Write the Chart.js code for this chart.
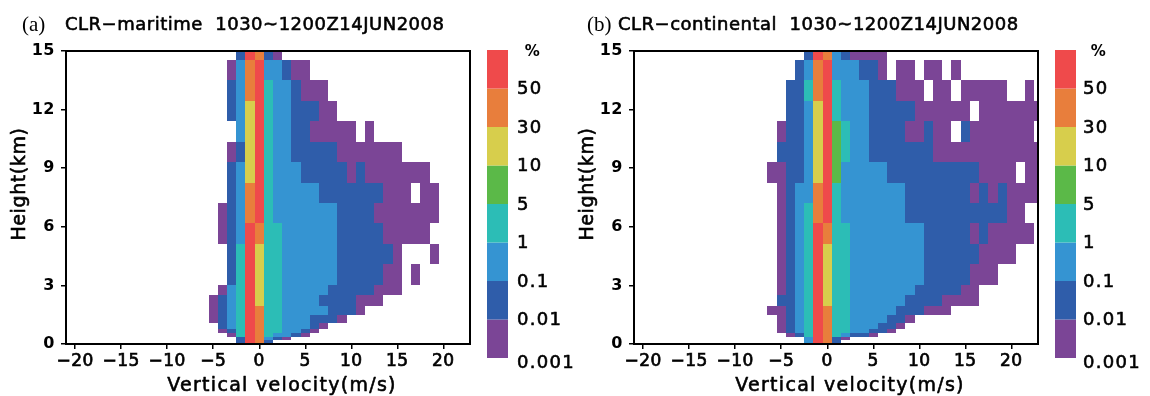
<!DOCTYPE html>
<html>
<head>
<meta charset="utf-8">
<script src="https://cdn.jsdelivr.net/npm/chart.js@4.4.0/dist/chart.umd.min.js"></script>
<style>
  html, body { margin: 0; padding: 0; background: #fff; }
  #wrap { position: relative; width: 1150px; height: 396px; overflow: hidden; }
  canvas { position: absolute; top: 0; }
</style>
</head>
<body>
<div id="wrap">
  <canvas id="chartA" width="582" height="396" style="left:0"></canvas>
  <canvas id="chartB" width="582" height="396" style="left:568px"></canvas>
</div>
<script>
// height bin edges (km), bottom to top
const heightEdges = [0, 0.2, 0.37, 0.55, 0.77, 1.06, 1.48, 1.96, 2.51, 3.02, 4.08, 5.12, 6.18,
  7.2, 8.26, 9.3, 10.36, 11.42, 12.44, 13.52, 14.54, 15.5];
// first character of each row string is the 1 m/s bin centred on this velocity
const velocityStart = -6;
const velocityTicks = [-20, -15, -10, -5, 0, 5, 10, 15, 20];
const heightTicks = [0, 3, 6, 9, 12, 15];

// shading classes, lowest first
const shadeColors = ['#7b4596', '#2f5daa', '#3594d2', '#2cbdb6', '#5bb948', '#d7ce4c', '#e87e3c', '#ef4a4b'];
const shadeLabels = ['0.001', '0.01', '0.1', '1', '5', '10', '30', '50'];

// rows from top (15 km) to the ground; digit = shading class, '.' = no data
const maritimeRows = [
  '....17610',
  '...026722100',
  '...12673221000',
  '...125732211100',
  '....2573221100000.0',
  '...0157322111110000000',
  '...1257322211111010000000',
  '...12673222221111111000.00',
  '..012673222222211110000000',
  '..01276332222221111100000',
  '...1375332222221111110...0',
  '...1375332222221111100.0',
  '..02375332222211111000',
  '.0123753322221111000',
  '.01237633222221110',
  '.012376332221110',
  '..123763322210',
  '..01376332210',
  '...037632210',
  '....176210',
  '....1761'
];
const continentalRows = [
  '....176210000',
  '...1267222110.00.00.0',
  '..113673222111000.00.00000..0',
  '..11257322211111000000.0000000',
  '.0112574322111100100.10000000',
  '.11125743221111111000000000000',
  '001125742222211111111110000.00',
  '.01226732222222111111101010000',
  '.012367322222221111111111100',
  '.0123763322222222111110100000',
  '.01237533222222221111110000',
  '.012375332222222211111000',
  '.0123753322222221111100',
  '.1123753322222211110000',
  '00123763322222111000',
  '.012376332222110',
  '.01237633222110',
  '.0123763322110',
  '..0137632110',
  '....27610',
  '....2761'
];

const FONT = 'DejaVu Sans';

// fill text and thicken it a little, the original lettering is heavier than DejaVu regular
function heavyText(ctx, t, x, y, w) {
  ctx.fillText(t, x, y);
  ctx.lineWidth = w;
  ctx.strokeText(t, x, y);
}

const cfadPlugin = {
  id: 'cfad',
  beforeDraw(chart) {
    chart.ctx.letterSpacing = '0.5px';
  },
  beforeDatasetsDraw(chart, args, opts) {
    const { ctx, chartArea: a, scales: { x, y } } = chart;
    const n = opts.rows.length;
    ctx.save();
    ctx.beginPath();
    ctx.rect(a.left, a.top, a.width, a.height);
    ctx.clip();
    opts.rows.forEach((row, i) => {
      const lo = heightEdges[n - 1 - i], hi = heightEdges[n - i];
      const y0 = Math.round(y.getPixelForValue(hi));
      const y1 = Math.round(y.getPixelForValue(lo));
      [...row].forEach((c, j) => {
        if (c === '.') return;
        const v = velocityStart + j;
        const x0 = Math.round(x.getPixelForValue(v - 0.5));
        const x1 = Math.round(x.getPixelForValue(v + 0.5));
        ctx.fillStyle = shadeColors[+c];
        ctx.fillRect(x0, y0, x1 - x0, y1 - y0);
      });
    });
    ctx.restore();
  },
  afterDraw(chart, args, opts) {
    const { ctx, chartArea: a } = chart;
    ctx.save();
    // frame
    ctx.strokeStyle = '#000';
    ctx.lineWidth = 2;
    ctx.strokeRect(a.left, a.top, a.width, a.height);

    // colour bar
    const cbL = 487, cbW = 21, cbTop = 50, cbBot = 358;
    const h = (cbBot - cbTop) / shadeColors.length;
    shadeColors.forEach((c, i) => {
      ctx.fillStyle = c;
      ctx.fillRect(cbL, cbBot - (i + 1) * h, cbW, h);
    });
    ctx.fillStyle = '#000';
    ctx.strokeStyle = '#000';
    ctx.lineJoin = 'round';
    ctx.textBaseline = 'middle';
    ctx.textAlign = 'left';
    ctx.letterSpacing = '1.3px';
    ctx.font = `18px "${FONT}"`;
    shadeLabels.forEach((t, i) => {
      const yy = cbBot - i * h + (i === 0 ? 5 : 1);
      heavyText(ctx, t, opts.cbText, yy, 0.6);
    });
    ctx.textAlign = 'center';
    ctx.font = `bold 15px "${FONT}"`;
    ctx.fillText('%', opts.cbText + 16, 52);

    // panel title
    ctx.textAlign = 'left';
    ctx.letterSpacing = '0px';
    ctx.font = '21px "Liberation Serif"';
    ctx.fillText(opts.tag, opts.tagX, 25);
    ctx.letterSpacing = '0.5px';
    ctx.font = `18px "${FONT}"`;
    heavyText(ctx, opts.title, opts.titleX, 25, 0.6);

    // axis titles
    ctx.letterSpacing = '1.3px';
    ctx.font = `19px "${FONT}"`;
    ctx.textAlign = 'center';
    heavyText(ctx, 'Vertical velocity(m/s)', 282, 386, 0.6);
    ctx.translate(20, 184);
    ctx.rotate(-Math.PI / 2);
    ctx.letterSpacing = '0.6px';
    heavyText(ctx, 'Height(km)', 0, 0, 0.6);
    ctx.restore();
  }
};

function makePanel(id, rows, tag, tagX, title, titleX, cbText) {
  return new Chart(document.getElementById(id), {
    type: 'scatter',
    data: { datasets: [] },
    plugins: [cfadPlugin],
    options: {
      responsive: false,
      animation: false,
      layout: { padding: { left: 0, right: 112, top: 51, bottom: 0 } },
      plugins: {
        legend: { display: false },
        tooltip: { enabled: false },
        cfad: { rows, tag, tagX, title, titleX, cbText }
      },
      scales: {
        x: {
          type: 'linear',
          min: -21,
          max: 22.9,
          afterFit: (s) => { s.height = 52; },
          afterBuildTicks: (s) => { s.ticks = velocityTicks.map(v => ({ value: v })); },
          border: { display: true, color: '#000', width: 2 },
          grid: { drawOnChartArea: false, drawTicks: true, tickLength: 5, color: '#000', lineWidth: 1.5 },
          ticks: {
            color: '#000',
            padding: 2,
            maxRotation: 0,
            textStrokeColor: '#000',
            textStrokeWidth: 0.7,
            font: { family: FONT, size: 17 },
            callback: (v) => (v < 0 ? '\u2212' + Math.abs(v) : String(v))
          }
        },
        y: {
          type: 'linear',
          min: 0,
          max: 15,
          afterFit: (s) => { s.width = 66; },
          afterBuildTicks: (s) => { s.ticks = heightTicks.map(v => ({ value: v })); },
          border: { display: true, color: '#000', width: 2 },
          grid: { drawOnChartArea: false, drawTicks: true, tickLength: 5, color: '#000', lineWidth: 1.5 },
          ticks: {
            color: '#000',
            padding: 6,
            font: { family: FONT, size: 16, weight: 'bold' }
          }
        }
      }
    }
  });
}

makePanel('chartA', maritimeRows, '(a)', 22, 'CLR\u2212maritime  1030~1200Z14JUN2008', 65, 517);
makePanel('chartB', continentalRows, '(b)', 19, 'CLR\u2212continental  1030~1200Z14JUN2008', 50, 515);
</script>
</body>
</html>
